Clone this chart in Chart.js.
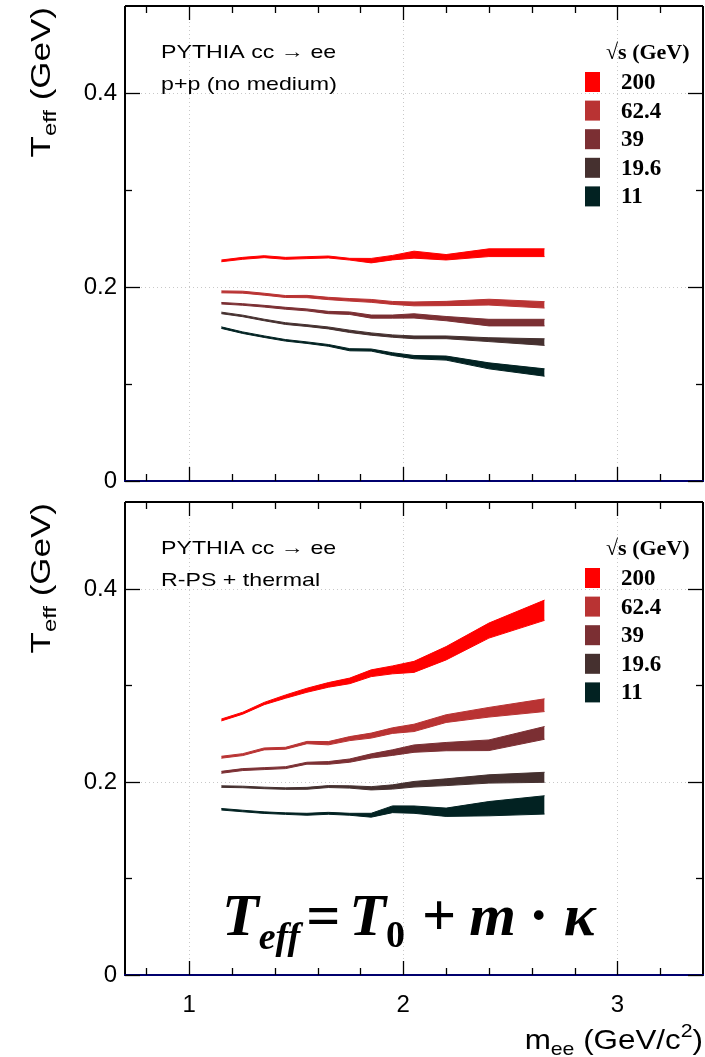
<!DOCTYPE html>
<html>
<head>
<meta charset="utf-8">
<script src="https://cdn.jsdelivr.net/npm/chart.js@4.4.1/dist/chart.umd.min.js"></script>
<style>
html, body { margin: 0; padding: 0; background: #fff; }
#wrap { position: relative; width: 705px; height: 1057px; }
canvas { position: absolute; left: 0; }
</style>
</head>
<body>
<div id="wrap">
<canvas id="ppChart" width="705" height="500" style="top:0"></canvas>
<canvas id="rpChart" width="705" height="557" style="top:500px"></canvas>
</div>
<script>
"use strict"

// mass bin centres (GeV/c2)
var massBins = [1.15, 1.25, 1.35, 1.45, 1.55, 1.65, 1.75, 1.85, 1.95, 2.05, 2.2, 2.4, 2.66];
var energies = ["200", "62.4", "39", "19.6", "11"];
var seriesColors = ["#ff0000", "#b93333", "#7b2f33", "#45302f", "#022222"];

var xMajorTicks = [1, 2, 3];
var xMinorTicks = [0.8, 1.2, 1.4, 1.6, 1.8, 2.2, 2.4, 2.6, 2.8, 3.2];
var yMajorTicks = [0, 0.2, 0.4];
var yMinorTicks = [0.1, 0.3];

// p+p (no medium): Teff and half band width
var ppT200 = [0.2271, 0.2297, 0.2314, 0.2297, 0.2304, 0.2311, 0.2288, 0.2273, 0.2304, 0.2335, 0.2308, 0.2355, 0.2355];
var ppE200 = [0.0009, 0.0010, 0.0010, 0.0010, 0.0010, 0.0010, 0.0009, 0.0023, 0.0023, 0.0036, 0.0028, 0.0040, 0.0040];
var ppT62 = [0.1951, 0.1948, 0.1927, 0.1903, 0.1903, 0.1883, 0.1869, 0.1858, 0.1837, 0.1827, 0.1831, 0.1845, 0.1817];
var ppE62 = [0.0010, 0.0010, 0.0010, 0.0010, 0.0012, 0.0012, 0.0013, 0.0015, 0.0015, 0.0020, 0.0022, 0.0030, 0.0033];
var ppT39 = [0.1834, 0.1821, 0.1803, 0.1782, 0.1765, 0.1738, 0.1731, 0.1696, 0.1696, 0.1703, 0.1675, 0.1634, 0.1634];
var ppE39 = [0.0008, 0.0008, 0.0009, 0.0010, 0.0010, 0.0012, 0.0013, 0.0016, 0.0016, 0.0022, 0.0022, 0.0034, 0.0034];
var ppT19 = [0.1734, 0.1703, 0.1661, 0.1624, 0.1603, 0.1579, 0.1544, 0.1516, 0.1495, 0.1482, 0.1482, 0.1458, 0.1433];
var ppE19 = [0.0008, 0.0008, 0.0008, 0.0009, 0.0009, 0.0010, 0.0012, 0.0012, 0.0012, 0.0014, 0.0014, 0.0020, 0.0034];
var ppT11 = [0.1582, 0.1530, 0.1489, 0.1451, 0.1427, 0.1399, 0.1354, 0.1351, 0.1309, 0.1278, 0.1268, 0.1188, 0.1119];
var ppE11 = [0.0008, 0.0008, 0.0008, 0.0008, 0.0008, 0.0009, 0.0011, 0.0011, 0.0014, 0.0017, 0.0021, 0.0031, 0.0038];

// R-PS + thermal
var rpT200 = [0.2642, 0.2712, 0.2812, 0.2884, 0.2950, 0.3005, 0.3047, 0.3126, 0.3161, 0.3192, 0.3333, 0.3568, 0.3779];
var rpE200 = [0.0010, 0.0010, 0.0012, 0.0017, 0.0021, 0.0024, 0.0029, 0.0035, 0.0041, 0.0057, 0.0069, 0.0078, 0.0105];
var rpT62 = [0.2256, 0.2283, 0.2342, 0.2349, 0.2408, 0.2401, 0.2449, 0.2480, 0.2532, 0.2560, 0.2656, 0.2722, 0.2795];
var rpE62 = [0.0010, 0.0010, 0.0010, 0.0010, 0.0012, 0.0017, 0.0021, 0.0026, 0.0029, 0.0038, 0.0040, 0.0050, 0.0066];
var rpT39 = [0.2100, 0.2128, 0.2138, 0.2148, 0.2194, 0.2197, 0.2221, 0.2269, 0.2304, 0.2345, 0.2366, 0.2380, 0.2508];
var rpE39 = [0.0010, 0.0010, 0.0010, 0.0010, 0.0010, 0.0014, 0.0017, 0.0022, 0.0029, 0.0038, 0.0043, 0.0055, 0.0066];
var rpT19 = [0.1952, 0.1948, 0.1938, 0.1931, 0.1934, 0.1952, 0.1948, 0.1934, 0.1948, 0.1976, 0.1997, 0.2031, 0.2048];
var rpE19 = [0.0008, 0.0008, 0.0008, 0.0008, 0.0010, 0.0010, 0.0012, 0.0017, 0.0022, 0.0029, 0.0035, 0.0043, 0.0052];
var rpT11 = [0.1717, 0.1699, 0.1682, 0.1672, 0.1665, 0.1675, 0.1665, 0.1655, 0.1717, 0.1713, 0.1686, 0.1723, 0.1762];
var rpE11 = [0.0008, 0.0008, 0.0008, 0.0008, 0.0010, 0.0010, 0.0010, 0.0020, 0.0035, 0.0038, 0.0043, 0.0074, 0.0095];

var SANS = '"Liberation Sans", Arial, sans-serif';
var SERIF = '"Liberation Serif", "Times New Roman", serif';

function makeBands(mids, errs){
    var sets = [];
    for (var i = 0; i < mids.length; i++){
        var col = seriesColors[i];
        var lo = massBins.map(function(m, k){ return {x: m, y: mids[i][k] - errs[i][k]}; });
        var hi = massBins.map(function(m, k){ return {x: m, y: mids[i][k] + errs[i][k]}; });
        sets.push({label: energies[i] + " lo", data: lo, borderColor: col, borderWidth: 1,
            pointRadius: 0, fill: false, tension: 0});
        sets.push({label: energies[i], data: hi, borderColor: col, backgroundColor: col, borderWidth: 1,
            pointRadius: 0, fill: "-1", tension: 0});
    }
    return sets;
}

function line(ctx, x1, y1, x2, y2){
    ctx.beginPath();
    ctx.moveTo(x1, y1);
    ctx.lineTo(x2, y2);
    ctx.stroke();
}

// draws runs of text with sub/superscripts, returns end x
function drawRuns(ctx, runs, x, y){
    for (var i in runs){
        var r = runs[i];
        ctx.font = r.font;
        x += r.pad || 0;
        ctx.fillText(r.t, x, y + (r.dy || 0));
        x += ctx.measureText(r.t).width;
    }
    return x;
}

function runsWidth(ctx, runs){
    var w = 0;
    for (var i in runs){
        ctx.font = runs[i].font;
        w += ctx.measureText(runs[i].t).width + (runs[i].pad || 0);
    }
    return w;
}

// stretched text helper
function wideText(ctx, str, x, y, sx){
    ctx.save();
    ctx.translate(x, y);
    ctx.scale(sx, 1);
    ctx.fillText(str, 0, 0);
    ctx.restore();
}

var gridPlugin = {
    id: "gridDeco",
    beforeDatasetsDraw: function(chart){
        var ctx = chart.ctx, a = chart.chartArea, xs = chart.scales.x, ys = chart.scales.y;
        ctx.save();
        ctx.strokeStyle = "#c8c8c8";
        ctx.lineWidth = 1;
        ctx.setLineDash([1, 3]);
        for (var i in xMajorTicks){
            var px = Math.round(xs.getPixelForValue(xMajorTicks[i])) + 0.5;
            line(ctx, px, a.top, px, a.bottom);
        }
        for (var j in yMajorTicks){
            if (yMajorTicks[j] === 0) continue;
            var py = Math.round(ys.getPixelForValue(yMajorTicks[j])) + 0.5;
            line(ctx, a.left, py, a.right, py);
        }
        ctx.restore();
    }
};

var decoPlugin = {
    id: "panelDeco",
    afterDatasetsDraw: function(chart, args, opts){
        var ctx = chart.ctx, a = chart.chartArea, xs = chart.scales.x, ys = chart.scales.y;
        ctx.save();

        // frame
        ctx.strokeStyle = "#000";
        ctx.lineWidth = 2;
        line(ctx, a.left, a.top, a.right, a.top);
        line(ctx, a.left, a.top, a.left, a.bottom);
        line(ctx, a.right, a.top, a.right, a.bottom);
        ctx.strokeStyle = "#00006e";
        line(ctx, a.left - 1, a.bottom, a.right + 1, a.bottom);

        // ticks
        ctx.strokeStyle = "#000";
        ctx.lineWidth = 1.3;
        var xt = [[xMajorTicks, 14], [xMinorTicks, 7]];
        for (var t in xt){
            for (var i in xt[t][0]){
                var px = Math.round(xs.getPixelForValue(xt[t][0][i])) + 0.5;
                line(ctx, px, a.bottom, px, a.bottom - xt[t][1]);
                line(ctx, px, a.top, px, a.top + xt[t][1]);
            }
        }
        var yt = [[yMajorTicks, 15], [yMinorTicks, 7]];
        for (var t2 in yt){
            for (var k in yt[t2][0]){
                var py = Math.round(ys.getPixelForValue(yt[t2][0][k])) + 0.5;
                line(ctx, a.left, py, a.left + yt[t2][1], py);
                line(ctx, a.right, py, a.right - yt[t2][1], py);
            }
        }

        // annotation lines
        ctx.fillStyle = "#000";
        ctx.textBaseline = "middle";
        ctx.textAlign = "left";
        ctx.font = "19px " + SANS;
        wideText(ctx, "PYTHIA cc \u2192 ee", 161, a.top + 47, 1.22);
        wideText(ctx, opts.subtitle, 161, a.top + 79, 1.22);

        // legend
        ctx.font = "bold 22px " + SERIF;
        ctx.fillText("\u221As (GeV)", 606, a.top + 47);
        ctx.font = "bold 23px " + SERIF;
        for (var e = 0; e < energies.length; e++){
            var cy = a.top + 76 + e * 28.6;
            ctx.fillStyle = seriesColors[e];
            ctx.fillRect(585, cy - 10, 15, 20);
            ctx.fillStyle = "#000";
            ctx.fillText(energies[e], 621, cy + 1);
        }

        // y axis title, rotated
        ctx.save();
        ctx.translate(50, a.top + 1);
        ctx.rotate(-Math.PI / 2);
        ctx.scale(1.25, 1);
        var yRuns = [
            {t: "T", font: "28px " + SANS},
            {t: "eff", font: "19px " + SANS, dy: 6},
            {t: " (GeV)", font: "28px " + SANS}
        ];
        ctx.textBaseline = "alphabetic";
        drawRuns(ctx, yRuns, -runsWidth(ctx, yRuns), 0);
        ctx.restore();

        if (opts.formula){
            ctx.textBaseline = "alphabetic";
            var big = "italic bold 60px " + SERIF;
            var sub = "italic bold 38px " + SERIF;
            var up = "bold 60px " + SERIF;
            drawRuns(ctx, [
                {t: "T", font: big},
                {t: "eff", font: sub, dy: 14},
                {t: "=", font: up, pad: 6},
                {t: "T", font: big, pad: 9},
                {t: "0", font: "bold 38px " + SERIF, dy: 12},
                {t: "+", font: up, pad: 17},
                {t: "m", font: big, pad: 13},
                {t: "\u00B7", font: up, pad: 13},
                {t: "\u03BA", font: big, pad: 15}
            ], 222, a.top + 433);
        }

        if (opts.xTitle){
            ctx.textBaseline = "alphabetic";
            var xRuns = [
                {t: "m", font: "28px " + SANS},
                {t: "ee", font: "19px " + SANS, dy: 6},
                {t: " (GeV/c", font: "28px " + SANS},
                {t: "2", font: "19px " + SANS, dy: -12},
                {t: ")", font: "28px " + SANS}
            ];
            ctx.save();
            ctx.translate(703, a.bottom + 74);
            ctx.scale(1.12, 1);
            drawRuns(ctx, xRuns, -runsWidth(ctx, xRuns), 0);
            ctx.restore();
        }
        ctx.restore();
    }
};

function makeChart(id, mids, errs, showX, top, xHeight, subtitle){
    return new Chart(document.getElementById(id), {
        type: "line",
        data: {datasets: makeBands(mids, errs)},
        options: {
            responsive: false,
            animation: false,
            layout: {padding: {top: top, right: 2, left: 0, bottom: 0}},
            plugins: {
                legend: {display: false},
                tooltip: {enabled: false},
                panelDeco: {subtitle: subtitle, formula: showX, xTitle: showX}
            },
            scales: {
                x: {
                    type: "linear", min: 0.7, max: 3.4,
                    grid: {display: false, drawTicks: false},
                    border: {display: false},
                    ticks: {display: showX, color: "#000", font: {family: SANS, size: 24}, padding: 16, maxRotation: 0},
                    afterBuildTicks: function(s){ s.ticks = xMajorTicks.map(function(v){ return {value: v}; }); },
                    afterFit: function(s){ s.height = xHeight; s.paddingLeft = 0; s.paddingRight = 0; }
                },
                y: {
                    type: "linear", min: 0, max: 0.49,
                    grid: {display: false, drawTicks: false},
                    border: {display: false},
                    ticks: {color: "#000", font: {family: SANS, size: 24}, padding: 8,
                        callback: function(v){ return v === 0 ? "0" : v.toFixed(1); }},
                    afterBuildTicks: function(s){ s.ticks = yMajorTicks.map(function(v){ return {value: v}; }); },
                    afterFit: function(s){ s.width = 125; s.paddingTop = 0; s.paddingBottom = 0; }
                }
            }
        },
        plugins: [gridPlugin, decoPlugin]
    });
}

makeChart("ppChart", [ppT200, ppT62, ppT39, ppT19, ppT11], [ppE200, ppE62, ppE39, ppE19, ppE11],
    false, 6, 19, "p+p (no medium)");
makeChart("rpChart", [rpT200, rpT62, rpT39, rpT19, rpT11], [rpE200, rpE62, rpE39, rpE19, rpE11],
    true, 2, 82, "R-PS + thermal");
</script>
</body>
</html>
